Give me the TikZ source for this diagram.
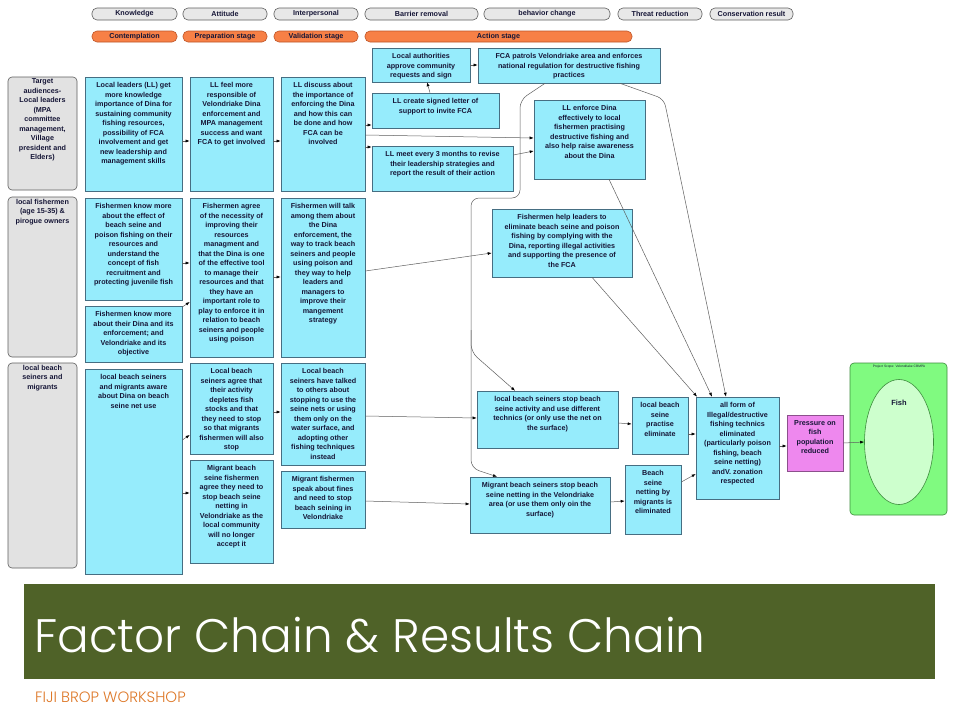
\documentclass[tikz,border=0pt]{standalone}
\usepackage{fontspec}
\setmainfont{Liberation Sans}
\IfFontExistsTF{Poppins Light}{\newfontfamily\titlefont{Poppins Light}}{\newfontfamily\titlefont{Poppins}}
\usetikzlibrary{arrows.meta,fit,shapes.geometric}
\definecolor{cyanfill}{RGB}{150,236,252}
\definecolor{cyanedge}{RGB}{70,110,130}
\definecolor{txtcol}{RGB}{22,22,55}
\definecolor{pillgrey}{RGB}{232,232,232}
\definecolor{pilledge}{RGB}{95,95,95}
\definecolor{orangefill}{RGB}{247,128,70}
\definecolor{orangeedge}{RGB}{190,85,40}
\definecolor{leftgrey}{RGB}{226,226,226}
\definecolor{pinkfill}{RGB}{238,136,238}
\definecolor{pinkedge}{RGB}{140,80,140}
\definecolor{greenfill}{RGB}{128,250,128}
\definecolor{greenedge}{RGB}{60,140,60}
\definecolor{ellfill}{RGB}{205,255,205}
\definecolor{olive}{RGB}{79,98,40}
\definecolor{footcol}{RGB}{222,120,40}
\definecolor{linecol}{RGB}{95,95,95}
\newcommand\bx[7]{%
  \coordinate (#2-nw) at (#3,#4); \coordinate (#2-se) at (#5,#6);
  \node[#1, fit=(#2-nw)(#2-se)] (#2) {};
  \node[btxt, anchor=north] (#2-t) at ([yshift=-5.5pt]#2.north) {#7};}
\newcommand\pl[7]{%
  \coordinate (#2-nw) at (#3,#4); \coordinate (#2-se) at (#5,#6);
  \node[#1, fit=(#2-nw)(#2-se)] (#2) {};
  \node[ptxt] (#2-t) at (#2.center) {#7};}
\tikzset{
  cbox/.style={draw=cyanedge, fill=cyanfill, line width=0.6pt, inner sep=0pt},
  gbox/.style={draw=pilledge, fill=leftgrey, line width=0.6pt, inner sep=0pt, rounded corners=4pt},
  pbox/.style={draw=pinkedge, fill=pinkfill, line width=0.6pt, inner sep=0pt},
  greypill/.style={draw=pilledge, fill=pillgrey, line width=0.6pt, inner sep=0pt, rounded corners=5pt},
  orangepill/.style={draw=orangeedge, fill=orangefill, line width=0.6pt, inner sep=0pt, rounded corners=5pt},
  btxt/.style={inner sep=0pt, align=center, text=txtcol, font=\bfseries\fontsize{7.2}{9.5}\selectfont},
  ptxt/.style={inner sep=0pt, align=center, text=txtcol, font=\bfseries\fontsize{7.2}{9}\selectfont},
  arr/.style={draw=linecol, line width=0.5pt, -{Latex[length=4pt,width=3pt,color=black]}},
}
\begin{document}
\begin{tikzpicture}[x=1pt,y=-1pt]
\useasboundingbox (0,0) rectangle (960,720);
\fill[white] (0,0) rectangle (960,720);
% header pills
\pl{greypill}{hk}{92}{8}{177}{20}{Knowledge}
\pl{greypill}{ha}{183}{8}{267}{20}{Attitude}
\pl{greypill}{hi}{274}{8}{358}{20}{Interpersonal}
\pl{greypill}{hb}{365}{8}{478}{20}{Barrier removal}
\pl{greypill}{hc}{484}{8}{610}{20}{behavior change}
\pl{greypill}{ht}{618}{8}{702}{20}{Threat reduction}
\pl{greypill}{hr}{710}{8}{793}{20}{Conservation result}
\pl{orangepill}{so}{92}{31}{177}{42}{Contemplation}
\pl{orangepill}{sp}{183}{31}{267}{42}{Preparation stage}
\pl{orangepill}{sv}{274}{31}{358}{42}{Validation stage}
\pl{orangepill}{sa}{365}{31}{632}{42}{Action stage}
% left audience boxes
\coordinate (tA-nw) at (8,77); \coordinate (tA-se) at (77,190);
\node[gbox, fit=(tA-nw)(tA-se)] (tA) {};
\node[btxt, anchor=north] (tA-t) at ([yshift=-2pt]tA.north) {Target\\audiences-\\Local leaders\\(MPA\\committee\\management,\\Village\\president and\\Elders)};
\coordinate (tF-nw) at (8,197); \coordinate (tF-se) at (77,357);
\node[gbox, fit=(tF-nw)(tF-se)] (tF) {};
\node[btxt, anchor=north] (tF-t) at ([yshift=-2pt]tF.north) {local fishermen\\(age 15-35) \&\\pirogue owners};
\coordinate (tS-nw) at (8,363); \coordinate (tS-se) at (77,568);
\node[gbox, fit=(tS-nw)(tS-se)] (tS) {};
\node[btxt, anchor=north] (tS-t) at ([yshift=-2pt]tS.north) {local beach\\seiners and\\migrants};
% column 2
\bx{cbox}{a1}{85}{77}{182}{191}{Local leaders (LL) get\\more knowledge\\importance of Dina for\\sustaining community\\fishing resources,\\possibility of FCA\\involvement and get\\new leadership and\\management skills}
\bx{cbox}{a2}{85}{198}{182}{300}{Fishermen know more\\about the effect of\\beach seine and\\poison fishing on their\\resources and\\understand the\\concept of fish\\recruitment and\\protecting juvenile fish}
\bx{cbox}{a3}{85}{306}{182}{362}{Fishermen know more\\about their Dina and its\\enforcement; and\\Velondriake and its\\objective}
\bx{cbox}{a4}{85}{369}{182}{574}{local beach seiners\\and migrants aware\\about Dina on beach\\seine net use}
% column 3
\bx{cbox}{b1}{190}{77}{273}{191}{LL feel more\\responsible of\\Velondriake Dina\\enforcement and\\MPA management\\success and want\\FCA to get involved}
\bx{cbox}{b2}{190}{198}{273}{357}{Fishermen agree\\of the necessity of\\improving their\\resources\\managment and\\that the Dina is one\\of the effective tool\\to manage their\\resources and that\\they have an\\important role to\\play to enforce it in\\relation to beach\\seiners and people\\using poison}
\bx{cbox}{b3}{190}{363}{273}{454}{Local beach\\seiners agree that\\their activity\\depletes fish\\stocks and that\\they need to stop\\so that migrants\\fishermen will also\\stop}
\bx{cbox}{b4}{190}{460}{273}{563}{Migrant beach\\seine fishermen\\agree they need to\\stop beach seine\\netting in\\Velondriake as the\\local community\\will no longer\\accept it}
% column 4
\bx{cbox}{c1}{281}{77}{365}{191}{LL discuss about\\the importance of\\enforcing the Dina\\and how this can\\be done and how\\FCA can be\\involved}
\bx{cbox}{c2}{281}{198}{365}{357}{Fishermen will talk\\among them about\\the Dina\\enforcement, the\\way to track beach\\seiners and people\\using poison and\\they way to help\\leaders and\\managers to\\improve their\\mangement\\strategy}
\bx{cbox}{c3}{281}{363}{365}{465}{Local beach\\seiners have talked\\to others about\\stopping to use the\\seine nets or using\\them only on the\\water surface, and\\adopting other\\fishing techniques\\instead}
\bx{cbox}{c4}{281}{471}{365}{528}{Migrant fishermen\\speak about fines\\and need to stop\\beach seining in\\Velondriake}
% action boxes
\bx{cbox}{d1}{372}{48}{470}{82}{Local authorities\\approve community\\requests and sign}
\bx{cbox}{d2}{372}{93}{499}{128}{LL create signed letter of\\support to invite FCA}
\bx{cbox}{d3}{372}{146}{513}{191}{LL meet every 3 months to revise\\their leadership strategies and\\report the result of their action}
\bx{cbox}{e1}{478}{48}{660}{83}{FCA patrols Velondriake area and enforces\\national regulation for destructive fishing\\practices}
\bx{cbox}{e2}{534}{100}{645}{179}{LL enforce Dina\\effectively to local\\fishermen practising\\destructive fishing and\\also help raise awareness\\about the Dina}
\bx{cbox}{e3}{492}{209}{632}{277}{Fishermen help leaders to\\eliminate beach seine and poison\\fishing by complying with the\\Dina, reporting illegal activities\\and supporting the presence of\\the FCA}
\bx{cbox}{e4}{477}{391}{618}{448}{local beach seiners stop beach\\seine activity and use different\\technics (or only use the net on\\the surface)}
\bx{cbox}{e5}{470}{477}{610}{533}{Migrant beach seiners stop beach\\seine netting in the Velondriake\\area (or use them only oin the\\surface)}
\bx{cbox}{f1}{632}{397}{688}{454}{local beach\\seine\\practise\\eliminate}
\bx{cbox}{f2}{625}{465}{681}{534}{Beach\\seine\\netting by\\migrants is\\eliminated}
\bx{cbox}{g1}{696}{397}{779}{499}{all form of\\Illegal/destructive\\fishing technics\\eliminated\\(particularly poison\\fishing, beach\\seine netting)\\andV. zonation\\respected}
\bx{pbox}{h1}{787}{415}{843}{471}{Pressure on\\fish\\population\\reduced}
% project scope
\coordinate (scope-nw) at (850,363); \coordinate (scope-se) at (947,515);
\node[draw=greenedge, fill=greenfill, line width=0.6pt, inner sep=0pt, rounded corners=4pt, fit=(scope-nw)(scope-se)] (scope) {};
\node[inner sep=0pt, text=txtcol, font=\fontsize{3.3}{4}\selectfont] (scope-t) at (899,366.5) {Project Scope: Velondriake CBMPA};
\node[ellipse, draw=greenedge, fill=ellfill, line width=0.6pt, minimum width=69pt, minimum height=125pt, inner sep=0pt] (fish) at (899,442) {};
\node[btxt, font=\bfseries\fontsize{7.5}{9}\selectfont] (fish-t) at (899,403) {Fish};
% connectors
\draw[arr] (a1.east |- 0,141) -- (b1.west |- 0,141);
\draw[arr] (b1.east |- 0,141) -- (c1.west |- 0,141);
\draw[arr] (c1.east |- 0,125) -- (d2.west |- 0,125);
\draw[arr] (c1.east |- 0,147) -- (d3.west |- 0,147);
\draw[arr] (d2.north -| 430,0) -- (d1.south -| 427,0);
\draw[arr] (d1.east |- 0,65) -- (e1.west |- 0,65);
\draw[arr] (c1.east |- 0,135) -- (e2.west |- 0,138);
\draw[arr] (d3.east |- 0,155) -- (e2.west |- 0,151);
\coordinate (jn) at (471,330);
\draw[arr, rounded corners=8pt] (e1.south -| 545,0) -- (520,100) -- (520,198) -- (471,198) -- (471,352) -- (e4.north -| 515,0);
\draw[arr, rounded corners=8pt] (jn) -- (471,468) -- (e5.north -| 497,0);
\draw[arr, rounded corners=7pt] (e1.south -| 620,0) -- (664,99) -- (g1.north -| 726,0);
\draw[arr] (e2.south -| 609,0) -- (g1.north -| 712,0);
\draw[arr] (e3.south -| 592,0) -- (g1.north -| 697,0);
\draw[arr] (a2.east |- 0,263) -- (b2.west |- 0,263);
\draw[arr] (a3.east |- 0,307) -- (b2.west |- 0,302);
\draw[arr] (b2.east |- 0,277) -- (c2.west |- 0,277);
\draw[arr] (c2.east |- 0,271) -- (e3.west |- 0,253);
\draw[arr] (a4.east |- 0,440) -- (b3.west |- 0,435);
\draw[arr] (a4.east |- 0,493) -- (b4.west |- 0,493);
\draw[arr] (b3.east |- 0,412) -- (c3.west |- 0,412);
\draw[arr] (c3.east |- 0,416) -- (e4.west |- 0,418);
\draw[arr] (c4.east |- 0,501) -- (e5.west |- 0,504);
\draw[arr] (e4.east |- 0,423) -- (f1.west |- 0,424);
\draw[arr] (e5.east |- 0,502) -- (f2.west |- 0,501);
\draw[arr] (f1.east |- 0,434) -- (g1.west |- 0,434);
\draw[arr] (f2.east |- 0,482) -- (g1.west |- 0,474);
\draw[arr] (g1.east |- 0,446) -- (h1.west |- 0,446);
\draw[arr] (h1.east |- 0,443) -- (fish.west);
% banner
\fill[olive] (24,584) rectangle (935,679);
\node[anchor=base west, inner sep=0pt, text=white, font=\titlefont\fontsize{47}{47}\selectfont] (title) at (34,652) {Factor Chain \& Results Chain};
\node[anchor=base west, inner sep=0pt, text=footcol, font=\titlefont\fontsize{15}{16}\selectfont] (foot) at (35,702) {FIJI BROP WORKSHOP};
\end{tikzpicture}
\end{document}
